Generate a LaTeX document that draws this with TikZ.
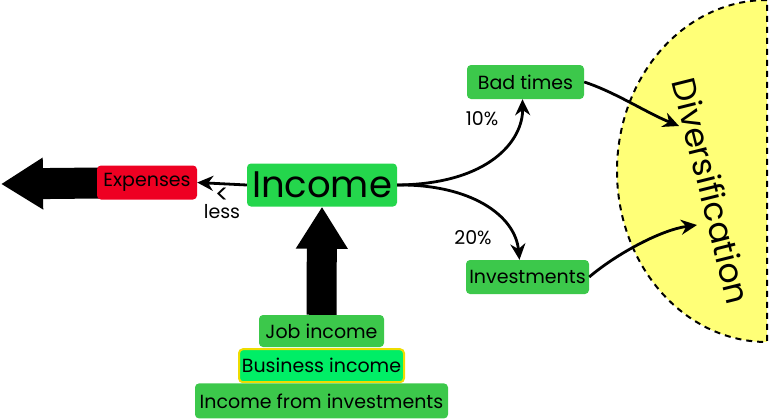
\documentclass[tikz,border=0pt]{standalone}
\usepackage{fontspec}
\setmainfont{Poppins}
\usetikzlibrary{arrows.meta, positioning, backgrounds}

\definecolor{incgreen}{RGB}{36,214,76}
\definecolor{boxgreen}{RGB}{60,200,75}
\definecolor{bizgreen}{RGB}{0,238,102}
\definecolor{bizyellow}{RGB}{238,221,0}
\definecolor{expred}{RGB}{238,0,34}
\definecolor{divyellow}{RGB}{255,255,119}

\begin{document}
\begin{tikzpicture}[
    x=1pt, y=-1pt,
    box/.style={rectangle, rounded corners=4pt, minimum height=34pt, inner sep=0pt, text centered, fill=boxgreen, font=\fontsize{19}{19}\selectfont},
    arrow/.style={line width=2.8pt, -{Stealth[length=16pt, width=15pt]}},
    bigarrow/.style={line width=31pt, -{Triangle[length=42pt, width=49pt]}},
    pct/.style={font=\fontsize{19}{19}\selectfont, align=center}
    ]
    \useasboundingbox (0,0) rectangle (770,418);

    % Main nodes
    \node (income) [box, fill=incgreen, minimum width=150pt, minimum height=43pt, font=\fontsize{37}{37}\selectfont] at (322,185) {Income};
    \node (expenses) [box, fill=expred, minimum width=100pt] at (147,182.5) {Expenses};
    \node (badtimes) [box, minimum width=117pt] at (525.5,82) {Bad times};
    \node (invest) [box, minimum width=123pt] at (527.5,277) {Investments};

    % Income sources
    \node (job) [box, minimum width=125pt, minimum height=32pt] at (321.5,331) {Job income};
    \node (business) [box, fill=bizgreen, draw=bizyellow, line width=2pt, minimum width=165pt, minimum height=33pt, below=1pt of job] {Business income};
    \node (fromInv) [box, minimum width=253pt, minimum height=35pt, below=0pt of business] {Income from investments};

    % Diversification
    \node (div) [rotate=-76, font=\fontsize{33}{33}\selectfont] at (712,191) {Diversification};
    \coordinate (divtop) at (679,126);
    \coordinate (divbot) at (697,225);
    \coordinate (out) at (1,184);

    \begin{scope}[on background layer]
        \fill[divyellow] (767,0) arc[start angle=-90, end angle=-270, x radius=150, y radius=171] -- cycle;
        \draw[line width=2pt, dash pattern=on 6pt off 5pt] (767,0) arc[start angle=-90, end angle=-270, x radius=150, y radius=171] -- cycle;
        \draw [bigarrow] (expenses.center) -- (out);
        \draw [line width=30pt, -{Triangle[length=42pt, width=49pt]}] (job.north) -- (income.south);
    \end{scope}

    % Arrows
    \draw [arrow] (income.west) -- node[pct, below=0pt] {{\fontsize{26}{20}\selectfont<}\\[-4pt]less} (expenses.east);
    \draw [arrow] (income.east) .. controls (490,184) and (523,140) .. ([xshift=-3pt]badtimes.south);
    \draw [arrow] (income.east) .. controls (470,184) and (515,215) .. ([xshift=-8pt]invest.north);
    \draw [arrow] (badtimes.east) .. controls (615,92) and (645,112) .. (divtop);
    \draw [arrow] (invest.east) .. controls (615,255) and (660,230) .. (divbot);

    % Labels
    \node (p10) [pct] at (482,119) {10\%};
    \node (p20) [pct] at (473,238) {20\%};

\end{tikzpicture}
\end{document}
